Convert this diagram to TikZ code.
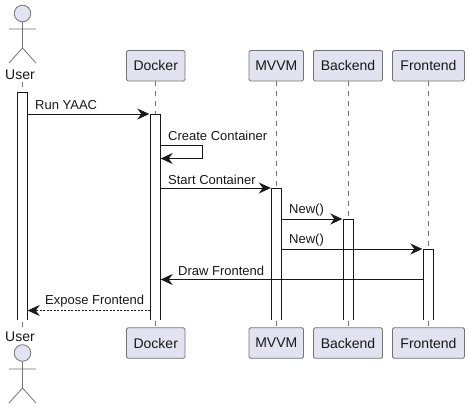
\documentclass[tikz,border=0pt]{standalone}
\usepackage{fontspec}
\setmainfont{Liberation Sans}
\usetikzlibrary{arrows.meta,calc}
\definecolor{pfill}{HTML}{E2E2F0}
\definecolor{pline}{HTML}{181818}
\tikzset{
  part/.style={draw=pline!60,line width=.9pt,fill=pfill,rounded corners=1.5pt,minimum height=30.5pt,inner sep=0pt,font=\fontsize{14}{16}\selectfont,text=pline},
  lifeline/.style={draw=pline!60,line width=.7pt,dash pattern=on 5pt off 5pt},
  actorline/.style={draw=pline!60,line width=.8pt},
  actorhead/.style={draw=pline!60,line width=.8pt,fill=pfill},
  actorname/.style={inner sep=0pt,font=\fontsize{14}{16}\selectfont,text=pline},
  bar/.style={draw=none,fill=white,minimum width=10pt,inner sep=0pt,anchor=north},
  barline/.style={draw=pline,line width=.9pt},
  msg/.style={draw=pline,line width=.9pt,-{Stealth[length=12pt,width=11pt,inset=4pt]}},
  msgd/.style={msg,dash pattern=on 2pt off 1.5pt,line width=.7pt},
  lbl/.style={inner sep=0pt,font=\fontsize{13}{15}\selectfont,text=pline,anchor=west},
}
\begin{document}
\begin{tikzpicture}[x=1pt,y=-1pt]
\useasboundingbox (0,0) rectangle (469,409);
\fill[white] (0,0) rectangle (469,409);
% participants
\node[part,minimum width=58.5pt] (dt) at (155.75,65.75) {Docker};
\node[part,minimum width=54.5pt] (mt) at (276.25,65.75) {MVVM};
\node[part,minimum width=69pt] (bt) at (348,65.75) {Backend};
\node[part,minimum width=72pt] (ft) at (428.5,65.75) {Frontend};
\node[part,minimum width=58.5pt] (db) at (155.75,343) {Docker};
\node[part,minimum width=54.5pt] (mb) at (276.25,343) {MVVM};
\node[part,minimum width=69pt] (bb) at (348,343) {Backend};
\node[part,minimum width=72pt] (fb) at (428.5,343) {Frontend};
\node[actorname] (ut) at (20,75) {User};
\node[actorname] (ub) at (20,337) {User};
% lifelines
\draw[lifeline] (22.5,82) -- (22.5,327);
\draw[lifeline] (dt.south) -- (db.north);
\draw[lifeline] (mt.south) -- (mb.north);
\draw[lifeline] (bt.south) -- (bb.north);
\draw[lifeline] (ft.south) -- (fb.north);
% actors
\draw[actorhead] (22.5,13.5) circle (8.3);
\draw[actorline] (22.5,22) -- (22.5,48) (9,29) -- (36,29) (9,63) -- (22.5,48) -- (36,63);
\draw[actorhead] (22.5,353) circle (8.3);
\draw[actorline] (22.5,361.5) -- (22.5,388) (9,369) -- (36,369) (9,403) -- (22.5,388) -- (36,403);
% activations
\node[bar,minimum height=228pt] (ua) at (22.5,92) {};
\node[bar,minimum height=206pt] (da) at (155.5,114) {};
\node[bar,minimum height=132pt] (ma) at (276.5,188) {};
\node[bar,minimum height=101pt] (ba) at (348.5,219) {};
\node[bar,minimum height=71pt] (fa) at (428.5,249) {};
\foreach \n in {ua,da,ma,ba,fa}{
  \draw[barline] (\n.south west) -- (\n.north west) -- (\n.north east) -- (\n.south east);
}
% messages
\coordinate (selfa) at (202,145.5);
\coordinate (selfb) at (202,158.5);
\draw[msg] (ua.east |- da.north) -- ([xshift=-1pt]da.north west);
\draw[msg] (da.east |- selfa) -- (selfa) -- (selfb) -- (da.east |- selfb);
\draw[msg] (da.east |- ma.north) -- ([xshift=-.5pt]ma.north west);
\draw[msg] (ma.east |- ba.north) -- ([xshift=-1pt]ba.north west);
\draw[msg] (ma.east |- fa.north) -- ([xshift=-1pt]fa.north west);
\coordinate (drawy) at (0,279.5);
\draw[msg] (fa.west |- drawy) -- (da.east |- drawy);
\coordinate (expy) at (0,310.5);
\draw[msgd] (da.west |- expy) -- (ua.east |- expy);
% labels
\node[lbl] (l1) at (35,105.5) {Run YAAC};
\node[lbl] (l2) at (168,136) {Create Container};
\node[lbl] (l3) at (168,179.5) {Start Container};
\node[lbl] (l4) at (289,210.5) {New()};
\node[lbl] (l5) at (289,240.5) {New()};
\node[lbl] (l6) at (178,270.5) {Draw Frontend};
\node[lbl] (l7) at (45,301) {Expose Frontend};
\end{tikzpicture}
\end{document}
